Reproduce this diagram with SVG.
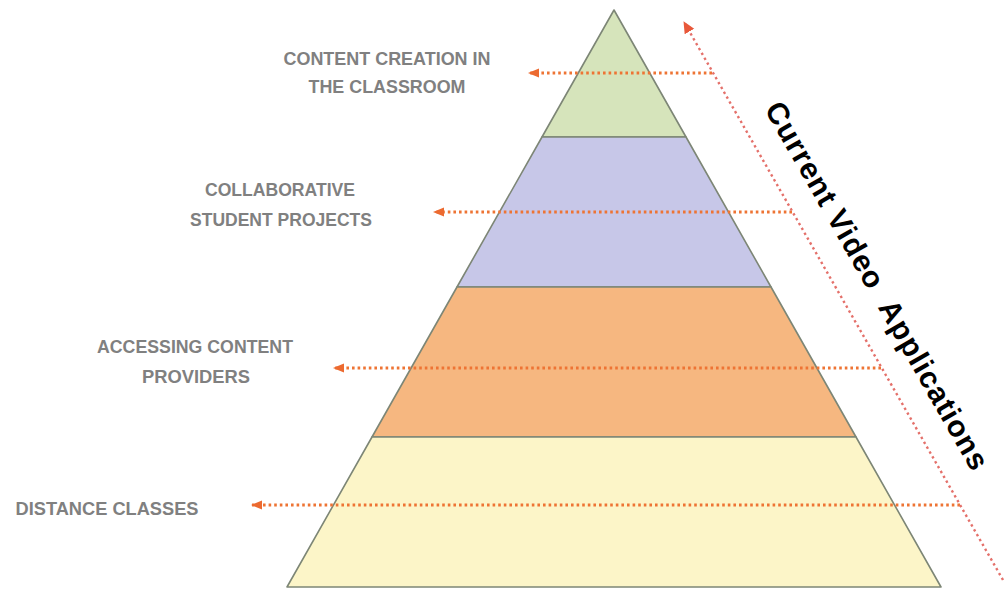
<svg xmlns="http://www.w3.org/2000/svg" width="1005" height="590" viewBox="0 0 1005 590">
  <style>
    .layer { stroke: #7d8676; stroke-width: 1.6; stroke-linejoin: round; }
    .lbl { font-family: "Liberation Sans", Arial, sans-serif; font-size: 18px; font-weight: bold; fill: #808080; text-anchor: middle; }
    .harrow { fill: none; stroke: #ee7434; stroke-width: 2.8; stroke-dasharray: 2.6 3; }
    .darrow { fill: none; stroke: #e4706a; stroke-width: 2.4; stroke-dasharray: 2.4 3.2; }
    .title { font-family: "Liberation Sans", Arial, sans-serif; font-size: 30px; font-weight: bold; fill: #000000; white-space: pre; }
  </style>
  <defs>
    <marker id="headH" markerUnits="userSpaceOnUse" markerWidth="12" markerHeight="10" refX="10" refY="4.5" orient="auto">
      <path d="M0,0 L11,4.5 L0,9 z" fill="#ec6a30"/>
    </marker>
    <marker id="headD" markerUnits="userSpaceOnUse" markerWidth="14" markerHeight="12" refX="11" refY="5.5" orient="auto">
      <path d="M0,0 L12,5.5 L0,11 z" fill="#e8583a"/>
    </marker>
  </defs>
  <rect width="1005" height="590" fill="#ffffff"/>

  <g id="layer-content-creation">
    <polygon class="layer" points="614,10 686,137 542,137" fill="#d6e4bb"/>
    <text class="lbl" x="387" y="65" textLength="207" lengthAdjust="spacingAndGlyphs">CONTENT CREATION IN</text>
    <text class="lbl" x="387" y="93" textLength="157" lengthAdjust="spacingAndGlyphs">THE CLASSROOM</text>
  </g>
  <g id="layer-collaborative">
    <polygon class="layer" points="542,137 686,137 771,287 457,287" fill="#c7c7e8"/>
    <text class="lbl" x="280" y="196" textLength="150" lengthAdjust="spacingAndGlyphs">COLLABORATIVE</text>
    <text class="lbl" x="281" y="226" textLength="182" lengthAdjust="spacingAndGlyphs">STUDENT PROJECTS</text>
  </g>
  <g id="layer-accessing">
    <polygon class="layer" points="457,287 771,287 856,437 372,437" fill="#f6b780"/>
    <text class="lbl" x="195" y="353" textLength="196" lengthAdjust="spacingAndGlyphs">ACCESSING CONTENT</text>
    <text class="lbl" x="196" y="383" textLength="108" lengthAdjust="spacingAndGlyphs">PROVIDERS</text>
  </g>
  <g id="layer-distance">
    <polygon class="layer" points="372,437 856,437 941,587 287,587" fill="#fcf5c8"/>
    <text class="lbl" x="107" y="515" textLength="183" lengthAdjust="spacingAndGlyphs">DISTANCE CLASSES</text>
  </g>

  <g id="connectors">
    <path class="harrow" d="M712,73 L529,73" marker-end="url(#headH)"/>
    <path class="harrow" d="M792,212 L434,212" marker-end="url(#headH)"/>
    <path class="harrow" d="M881,368 L334,368" marker-end="url(#headH)"/>
    <path class="harrow" d="M960,505 L252,505" marker-end="url(#headH)"/>
    <path class="darrow" d="M1003,580 L684,22" marker-end="url(#headD)"/>
  </g>

  <g id="axis-label">
    <text class="title" transform="translate(764,109) rotate(60.2)" textLength="419" lengthAdjust="spacing">Current Video  Applications</text>
  </g>
</svg>
